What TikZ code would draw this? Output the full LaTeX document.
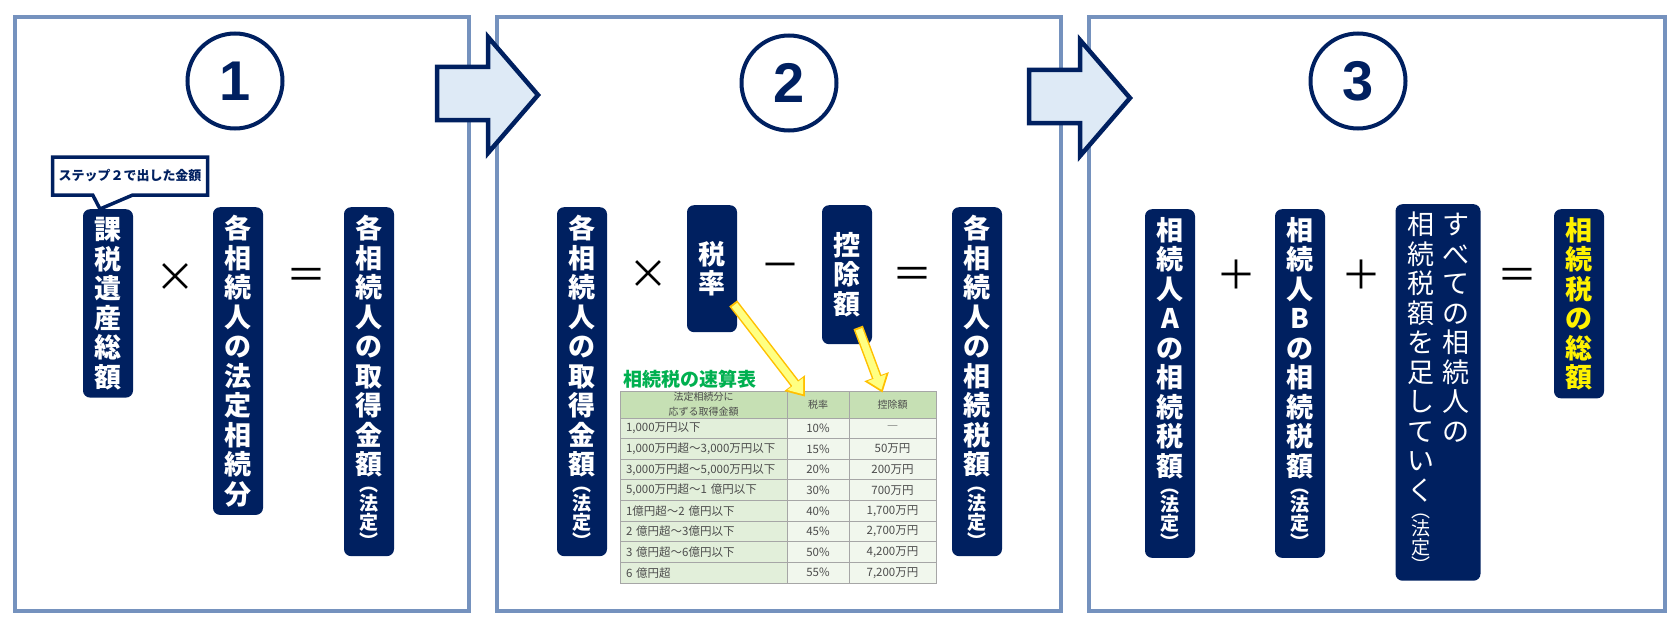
\documentclass[tikz,border=0pt]{standalone}
\usepackage{fontspec}
\setmainfont{Noto Sans CJK JP}
\newfontfamily\numfont{Liberation Sans}
\usetikzlibrary{shapes.callouts,calc,arrows.meta}

\definecolor{navy}{RGB}{0,32,96}
\definecolor{panelblue}{RGB}{117,146,190}
\definecolor{arrowfill}{RGB}{222,234,246}
\definecolor{hdrgreen}{RGB}{198,224,180}
\definecolor{rowgreen}{RGB}{226,239,218}
\definecolor{rowlight}{RGB}{241,247,237}
\definecolor{titlegreen}{RGB}{0,176,80}
\definecolor{yelfill}{RGB}{255,255,130}
\definecolor{yelline}{RGB}{255,192,0}

% vertical text: one character per line
\newcommand\tate[1]{\begin{minipage}[t]{1em}\centering #1\end{minipage}}
\newcommand\hotei{\par\fontsize{19}{17}\selectfont ︵\\法\\定\\︶}

\tikzset{
  panel/.style={draw=panelblue, line width=4.5pt},
  bigarrow/.style={draw=navy, fill=arrowfill, line width=4.5pt, line join=miter},
  stepnum/.style={circle, draw=navy, line width=4pt, minimum size=95pt, text=navy,
    font=\numfont\bfseries\fontsize{56}{56}\selectfont},
  box/.style={fill=navy, text=white, rounded corners=7pt, anchor=north,
    inner xsep=11.5pt, inner ysep=8pt, font=\bfseries\fontsize{27}{29.5}\selectfont},
  op/.style={font=\fontsize{40}{40}\selectfont},
  hcell/.style={draw=gray!70, fill=hdrgreen, line width=0.8pt, align=center,
    inner sep=1pt, text=black!70, font=\fontsize{10}{15}\selectfont},
  cell/.style={draw=gray!70, line width=0.8pt, minimum height=20.6pt, inner sep=0pt,
    text=black!70, font=\fontsize{11.5}{13}\selectfont},
  yarrow/.style={draw=yelfill, line width=7pt, shorten >=3pt, shorten <=2pt,
    -{Triangle[length=13pt,width=19pt]},
    preaction={draw=yelline, line width=10pt, shorten >=0pt, shorten <=0pt,
      -{Triangle[length=17pt,width=25pt]}}}
}

\begin{document}
\begin{tikzpicture}[x=1pt, y=-1pt]
\useasboundingbox (0,0) rectangle (1671,626);

% three panels
\draw[panel] (15,17) rectangle (469,611);
\draw[panel] (497,17) rectangle (1061,611);
\draw[panel] (1089,17) rectangle (1665,611);

% arrows between panels
\draw[bigarrow] (437,67) -- (488,67) -- (488,37) -- (538,95) -- (488,153) -- (488,120) -- (437,120) -- cycle;
\draw[bigarrow, shift={(592,3)}] (437,67) -- (488,67) -- (488,37) -- (538,95) -- (488,153) -- (488,120) -- (437,120) -- cycle;

\node[stepnum] (s1) at (235,81) {1};
\node[stepnum] (s2) at (789,83) {2};
\node[stepnum] (s3) at (1358,81) {3};

% step 1
\node[box] (estate) at (108,209) {\tate{課\\税\\遺\\産\\総\\額}};
\node[rectangle callout, draw=navy, line width=3.5pt, fill=white, text=navy,
  font=\bfseries\fontsize{13}{13}\selectfont, minimum width=155pt, minimum height=38pt,
  callout absolute pointer={($(estate.north)+(-8,0)$)}, callout pointer width=40pt]
  (note) at (130,176) {ステップ２で出した金額};
\node[op] (times1) at (175,278) {×};
\node[box] (share) at (238,207) {\tate{各\\相\\続\\人\\の\\法\\定\\相\\続\\分}};
\node[op] (eq1) at (306,279) {＝};
\node[box] (get1) at (369,207) {\tate{各\\相\\続\\人\\の\\取\\得\\金\\額\hotei}};

% step 2
\node[box] (get2) at (582,207) {\tate{各\\相\\続\\人\\の\\取\\得\\金\\額\hotei}};
\node[op] (times2) at (648,275) {×};
\node[box, minimum height=127pt] (rate) at (712,205) {\tate{税\\率}};
\node[op] (minus) at (780,271) {－};
\node[box, minimum height=139pt] (ded) at (847,205) {\tate{控\\除\\額}};
\node[op] (eq2) at (912,278) {＝};
\node[box] (tax2) at (977,207) {\tate{各\\相\\続\\人\\の\\相\\続\\税\\額\hotei}};

% quick table
\node[anchor=west, text=titlegreen, font=\bfseries\fontsize{19}{19}\selectfont] (ttitle) at (620,379) {相続税の速算表};
\node[hcell, minimum width=167pt, minimum height=27pt] (hdrrange) at (703.5,404.5) {法定相続分に\\応ずる取得金額};
\node[hcell, minimum width=62pt, minimum height=27pt] (hdrrate) at (818,404.5) {税率};
\node[hcell, minimum width=87pt, minimum height=27pt] (hdrded) at (892.5,404.5) {控除額};
\foreach \rng/\pct/\amt [count=\i] in {
  {1,000万円以下}/10\%/―,
  {1,000万円超～3,000万円以下}/15\%/50万円,
  {3,000万円超～5,000万円以下}/20\%/200万円,
  {5,000万円超～1 億円以下}/30\%/700万円,
  {1億円超～2 億円以下}/40\%/{1,700万円},
  {2 億円超～3億円以下}/45\%/{2,700万円},
  {3 億円超～6億円以下}/50\%/{4,200万円},
  {6 億円超}/55\%/{7,200万円}} {
  \pgfmathsetmacro\yc{418+(\i-0.5)*20.625}
  \node[cell, fill=rowgreen, minimum width=167pt, text width=155pt, align=left] (rng\i) at (703.5,\yc) {\rng};
  \node[cell, fill=rowlight, minimum width=62pt] (pct\i) at (818,\yc) {\pct};
  \node[cell, fill=rowlight, minimum width=87pt] (amt\i) at (892.5,\yc) {\amt};
}
\draw[yarrow] ($(rate.south east)+(-4,-29)$) -- ($(hdrrate.north)+(-13,6)$);
\draw[yarrow] ($(ded.south east)+(-14,-17)$) -- ($(hdrded.north)+(-10,2)$);

% step 3
\node[box] (taxA) at (1170,209) {\tate{相\\続\\人\\A\\の\\相\\続\\税\\額\hotei}};
\node[op] (plus1) at (1236,275) {＋};
\node[box] (taxB) at (1300,209) {\tate{相\\続\\人\\B\\の\\相\\続\\税\\額\hotei}};
\node[op] (plus2) at (1361,275) {＋};
\node[box, font=\fontsize{27}{29.5}\selectfont] (sumall) at (1438,204)
  {\tate{相\\続\\税\\額\\を\\足\\し\\て\\い\\く\hotei}\hspace{8pt}\tate{す\\べ\\て\\の\\相\\続\\人\\の}};
\node[op] (eq3) at (1517,279) {＝};
\node[box, text=yellow] (total) at (1579,209) {\tate{相\\続\\税\\の\\総\\額}};
\end{tikzpicture}
\end{document}
